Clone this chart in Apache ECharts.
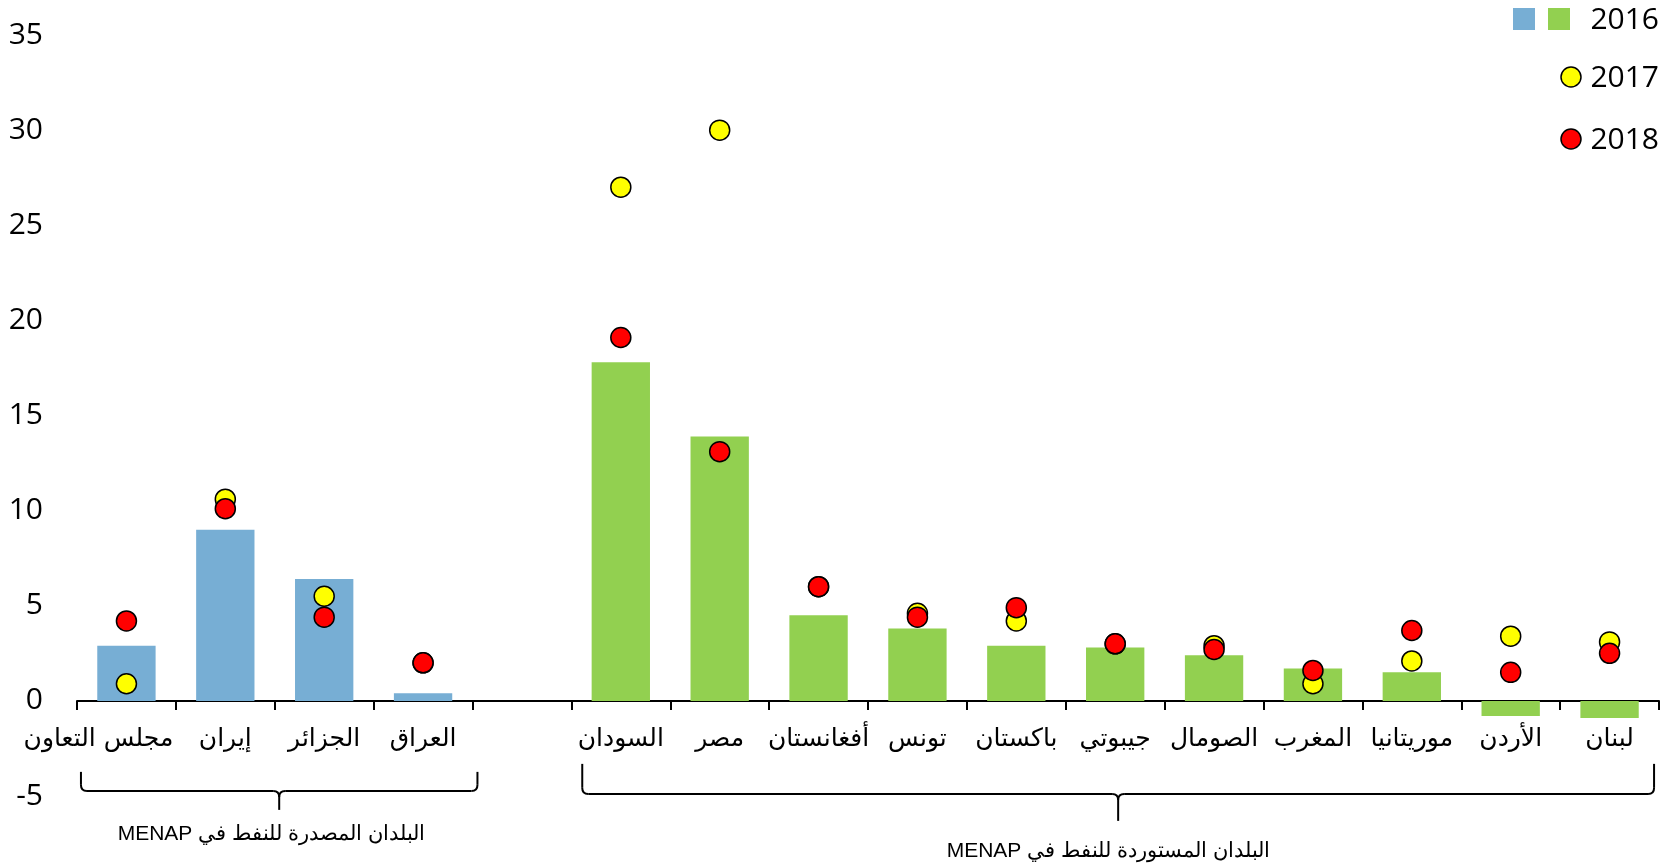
<!DOCTYPE html>
<html><head><meta charset="utf-8">
<script src="https://cdn.jsdelivr.net/npm/echarts@6/dist/echarts.min.js"></script>
<style>html,body{margin:0;padding:0;background:#fff}#c{width:1673px;height:866px}</style>
</head><body><div id="c"></div>
<script>
// Categories
const exporters = ['مجلس التعاون', 'إيران', 'الجزائر', 'العراق'];
const importers = ['السودان', 'مصر', 'أفغانستان', 'تونس', 'باكستان', 'جيبوتي', 'الصومال', 'المغرب', 'موريتانيا', 'الأردن', 'لبنان'];
const exportersLabel = 'البلدان المصدرة للنفط في MENAP';
const importersLabel = 'البلدان المستوردة للنفط في MENAP';
// Values
const exp2016 = [2.9, 9.0, 6.4, 0.4];
const imp2016 = [17.8, 13.9, 4.5, 3.8, 2.9, 2.8, 2.4, 1.7, 1.5, -0.8, -0.9];
const exp2017 = [0.9, 10.6, 5.5, 2.0];
const imp2017 = [27.0, 30.0, 6.0, 4.6, 4.2, 3.0, 2.9, 0.9, 2.1, 3.4, 3.1];
const exp2018 = [4.2, 10.1, 4.4, 2.0];
const imp2018 = [19.1, 13.1, 6.0, 4.4, 4.9, 3.0, 2.7, 1.6, 3.7, 1.5, 2.5];
const yTicks = { min: -5, max: 35, interval: 5 };
const legendNames = ['2016', '2017', '2018'];

const BLUE = '#77AED4', GREEN = '#92D050', YELLOW = '#FFFF00', RED = '#FF0000';
const gap = ' ';
const categories = [...exporters, gap, ...importers];
const xData = categories.map((c, i) => i === 0 ? { value: c, textStyle: { padding: [0, 56, 0, 0] } } : c);
const dash = arr => arr.map(() => '-');
const bars16Exp = [...exp2016, '-', ...dash(importers)];
const bars16Imp = [...dash(exporters), '-', ...imp2016];
const pts17 = [...exp2017, '-', ...imp2017];
const pts18 = [...exp2018, '-', ...imp2018];

const chart = echarts.init(document.getElementById('c'));
chart.setOption({
  animation: false,
  backgroundColor: '#fff',
  grid: { left: 77, right: 14, top: 35, bottom: 70 },
  xAxis: {
    type: 'category', data: xData, offset: 0,
    axisLine: { onZero: false, lineStyle: { color: '#000', width: 2 } },
    axisTick: { show: true, length: 9, lineStyle: { color: '#000', width: 2 } },
    axisLabel: { interval: 0, margin: 26, color: '#000', fontFamily: 'DejaVu Sans', fontSize: 25 },
    splitLine: { show: false }
  },
  yAxis: {
    type: 'value', min: yTicks.min, max: yTicks.max, interval: yTicks.interval,
    axisLine: { show: false }, axisTick: { show: false }, splitLine: { show: false },
    axisLabel: { margin: 34, color: '#000', fontFamily: 'Open Sans', fontSize: 30 }
  },
  series: [
    { name: '2016e', type: 'bar', data: bars16Exp, barWidth: '59%', barGap: '-100%', itemStyle: { color: BLUE } },
    { name: legendNames[0], type: 'bar', data: bars16Imp, barWidth: '59%', barGap: '-100%', itemStyle: { color: GREEN } },
    { name: legendNames[1], type: 'scatter', data: pts17, symbolSize: 20, z: 3,
      itemStyle: { color: YELLOW, borderColor: '#000', borderWidth: 1.5, opacity: 1 } },
    { name: legendNames[2], type: 'scatter', data: pts18, symbolSize: 20, z: 4,
      itemStyle: { color: RED, borderColor: '#000', borderWidth: 1.5, opacity: 1 } }
  ]
});

// move the category axis up to the zero line
const y0 = chart.convertToPixel({ yAxisIndex: 0 }, 0);
const yMinPx = chart.convertToPixel({ yAxisIndex: 0 }, yTicks.min);
chart.setOption({ xAxis: { offset: -(yMinPx - y0) } });

const lineStyle = { stroke: '#000', lineWidth: 2, fill: null };
function brace(x1, x2, cx, yTop, yMid, yBot, r) {
  const L = (a, b, c, d) => ({ type: 'line', shape: { x1: a, y1: b, x2: c, y2: d }, style: lineStyle });
  const Q = (a, b, cpx, cpy, c, d) => ({ type: 'bezierCurve', shape: { x1: a, y1: b, cpx1: cpx, cpy1: cpy, x2: c, y2: d }, style: lineStyle });
  return [
    L(x1, yTop, x1, yMid - r), Q(x1, yMid - r, x1, yMid, x1 + r, yMid), L(x1 + r, yMid, cx - r, yMid),
    Q(cx - r, yMid, cx, yMid, cx, yMid + r), L(cx, yMid + r, cx, yBot),
    Q(cx + r, yMid, cx, yMid, cx, yMid + r), L(cx + r, yMid, x2 - r, yMid),
    Q(x2 - r, yMid, x2, yMid, x2, yMid - r), L(x2, yMid - r, x2, yTop)
  ];
}
const px = c => chart.convertToPixel({ xAxisIndex: 0 }, c);
const w = px(categories[1]) - px(categories[0]);
const lx1 = px(exporters[0]) - 0.46 * w, lx2 = px(exporters[exporters.length - 1]) + 0.55 * w;
const rx1 = px(importers[0]) - 0.39 * w, rx2 = px(importers[importers.length - 1]) + 0.45 * w;
const lcx = (lx1 + lx2) / 2, rcx = (rx1 + rx2) / 2;
const rtl = s => '\u202B' + s + '\u202C';
const groupFont = { fontSize: 21, fontFamily: 'Liberation Sans', fill: '#000', align: 'center', verticalAlign: 'middle' };
const legendFont = { fontSize: 30, fontFamily: 'Open Sans', fill: '#000', verticalAlign: 'middle' };
chart.setOption({
  graphic: [
    ...brace(lx1, lx2, lcx, y0 + 71, y0 + 90, y0 + 109, 6),
    ...brace(rx1, rx2, rcx, y0 + 63, y0 + 93, y0 + 120, 6),
    { type: 'text', x: lcx - 8, y: y0 + 133, style: Object.assign({ text: rtl(exportersLabel) }, groupFont) },
    { type: 'text', x: rcx - 10, y: y0 + 150, style: Object.assign({ text: rtl(importersLabel) }, groupFont) },
    // legend
    { type: 'rect', shape: { x: 1513, y: 8, width: 22, height: 22 }, style: { fill: BLUE } },
    { type: 'rect', shape: { x: 1548, y: 8, width: 22, height: 22 }, style: { fill: GREEN } },
    { type: 'text', x: 1659, y: 20, style: Object.assign({ text: legendNames[0], align: 'right' }, legendFont) },
    { type: 'circle', shape: { cx: 1571, cy: 77, r: 10 }, style: { fill: YELLOW, stroke: '#000', lineWidth: 1.5 } },
    { type: 'text', x: 1659, y: 78, style: Object.assign({ text: legendNames[1], align: 'right' }, legendFont) },
    { type: 'circle', shape: { cx: 1571, cy: 139, r: 10 }, style: { fill: RED, stroke: '#000', lineWidth: 1.5 } },
    { type: 'text', x: 1659, y: 140, style: Object.assign({ text: legendNames[2], align: 'right' }, legendFont) }
  ]
});
</script></body></html>
